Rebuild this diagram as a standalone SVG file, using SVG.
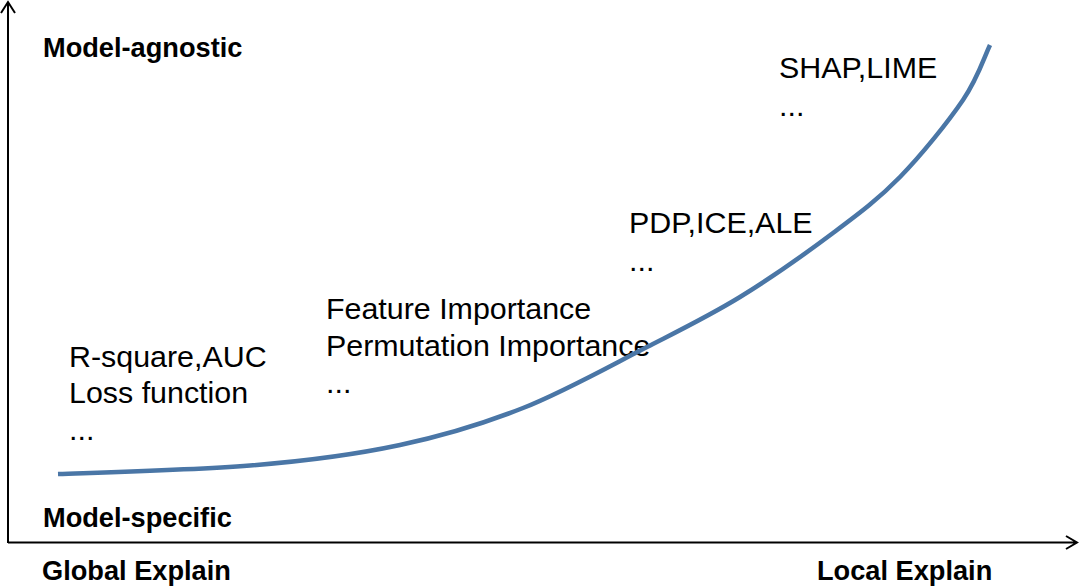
<svg xmlns="http://www.w3.org/2000/svg" width="1080" height="586" viewBox="0 0 1080 586">
<style>
.axis{fill:none;stroke:#000;stroke-width:2}
.curve{fill:none;stroke:#4a76a6;stroke-width:4.5;stroke-linecap:butt}
.bold{font-family:"Liberation Sans",Arial,sans-serif;font-weight:bold;font-size:27.2px;fill:#000}
.lbl{font-family:"Liberation Sans",Arial,sans-serif;font-size:30.4px;fill:#000}
</style>
<rect width="1080" height="586" fill="#fff"/>
<g id="axes">
<path class="axis" d="M8,543 V2 M1,13 L8,2 L15,13"/>
<path class="axis" d="M8,542.5 H1077 M1066,536 L1077,542.5 L1066,549"/>
</g>
<g id="axis-labels">
<text class="bold" x="43" y="57">Model-agnostic</text>
<text class="bold" x="43" y="527">Model-specific</text>
<text class="bold" x="42" y="580">Global Explain</text>
<text class="bold" x="817" y="580">Local Explain</text>
</g>
<g id="node-global">
<text class="lbl" x="69" y="367">R-square,AUC</text>
<text class="lbl" x="69" y="403">Loss function</text>
<text class="lbl" x="69" y="440">...</text>
</g>
<g id="node-feature">
<text class="lbl" x="326" y="319">Feature Importance</text>
<text class="lbl" x="326" y="356">Permutation Importance</text>
<text class="lbl" x="326" y="393">...</text>
</g>
<g id="node-pdp">
<text class="lbl" x="629" y="233">PDP,ICE,ALE</text>
<text class="lbl" x="629" y="271">...</text>
</g>
<g id="node-shap">
<text class="lbl" x="779" y="78">SHAP,LIME</text>
<text class="lbl" x="779" y="116">...</text>
</g>
<g id="connectors">
<path class="curve" d="M58,474 C118,472 193,470 250,465.5 C307,461 354.5,454.7 400,445 C445.5,435.3 481.8,424.3 523,408 C564.2,391.7 610.8,365.5 647,347 C683.2,328.5 709,316 740,297 C771,278 806.3,253 833,233 C859.7,213 878.3,199.2 900,177 C921.7,154.8 948,122 963,100 C978,78 983,60 990,45"/>
</g>
</svg>
